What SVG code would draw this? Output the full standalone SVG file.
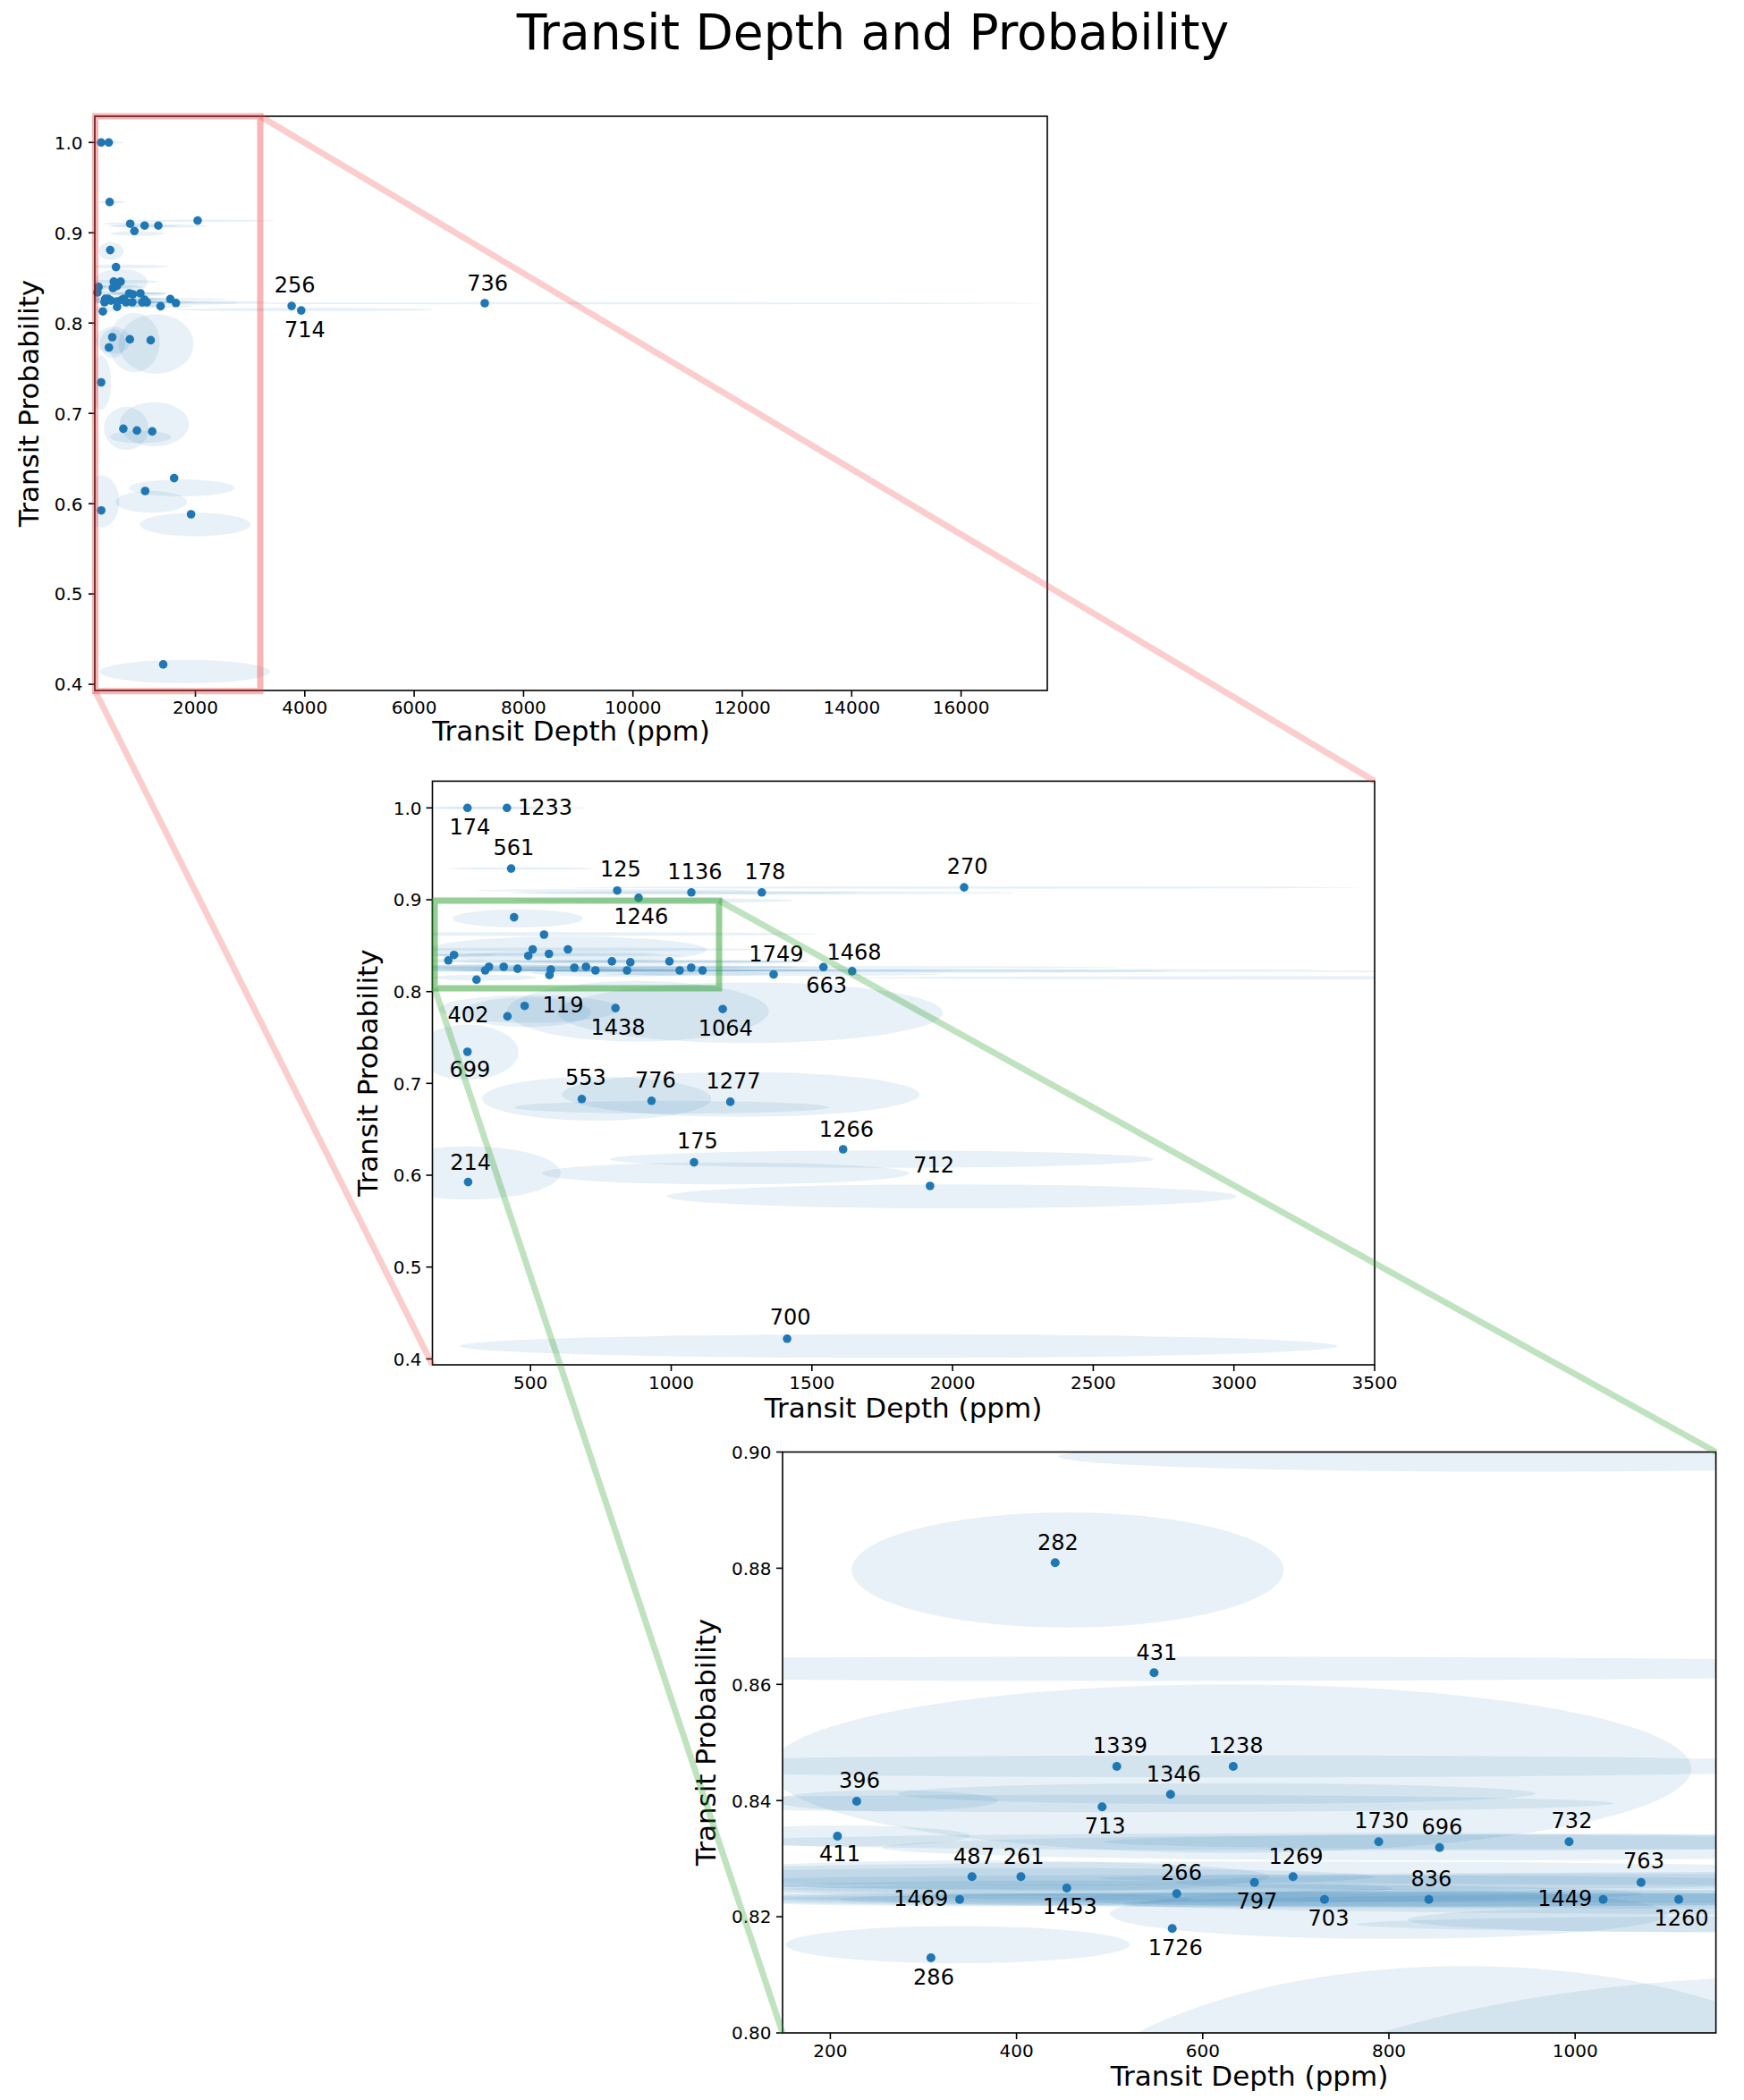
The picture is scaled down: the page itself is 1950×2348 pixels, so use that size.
<svg xmlns="http://www.w3.org/2000/svg" xmlns:xlink="http://www.w3.org/1999/xlink" width="1950" height="2348" viewBox="0 0 1950 2348">
<style>
.ell{fill:#1f77b4;fill-opacity:0.1}
.pt{fill:#1f77b4}
.ann{font-family:"DejaVu Sans","Liberation Sans",sans-serif;font-size:24px;text-anchor:middle;fill:#000}
.tk{font-family:"DejaVu Sans","Liberation Sans",sans-serif;font-size:20px;fill:#000}
.tx{text-anchor:middle}
.ty{text-anchor:end}
.lab{font-family:"DejaVu Sans","Liberation Sans",sans-serif;font-size:31px;text-anchor:middle;fill:#000}
.ttl{font-family:"DejaVu Sans","Liberation Sans",sans-serif;font-size:55px;text-anchor:middle;fill:#000}
.tl{stroke:#000;stroke-width:1.6}
.spine{fill:none;stroke:#000;stroke-width:1.6}
.rbox{fill:none;stroke:#f03c3c;stroke-opacity:0.38;stroke-width:7}
.rline{stroke:#f03c3c;stroke-opacity:0.26;stroke-width:7}
.gbox{fill:none;stroke:#2ca02c;stroke-opacity:0.5;stroke-width:7}
.gline{stroke:#2ca02c;stroke-opacity:0.3;stroke-width:7}
</style>
<defs>
<clipPath id="cT"><rect x="106" y="130" width="1065" height="642"/></clipPath>
<clipPath id="cM"><rect x="483.5" y="873.4" width="1053.5" height="652.6"/></clipPath>
<clipPath id="cB"><rect x="875" y="1623.5" width="1043.6" height="649.5"/></clipPath>
<g id="E" class="ell">
<ellipse cx="276" cy="1.0" rx="250" ry="0.0012"/>
<ellipse cx="430" cy="1.0" rx="270" ry="0.0012"/>
<ellipse cx="466" cy="0.934" rx="255" ry="0.0015"/>
<ellipse cx="808" cy="0.910" rx="500" ry="0.0015"/>
<ellipse cx="940" cy="0.8992" rx="495" ry="0.0026"/>
<ellipse cx="1071" cy="0.9075" rx="600" ry="0.0015"/>
<ellipse cx="1322" cy="0.9075" rx="903" ry="0.0018"/>
<ellipse cx="2041" cy="0.9133" rx="1402" ry="0.0013"/>
<ellipse cx="455" cy="0.8797" rx="232" ry="0.0099"/>
<ellipse cx="548" cy="0.8627" rx="970" ry="0.0021"/>
<ellipse cx="630" cy="0.8455" rx="495" ry="0.0145"/>
<ellipse cx="633" cy="0.8459" rx="700" ry="0.0019"/>
<ellipse cx="260" cy="0.8400" rx="120" ry="0.0018"/>
<ellipse cx="615" cy="0.8412" rx="343" ry="0.0018"/>
<ellipse cx="492" cy="0.8395" rx="550" ry="0.0015"/>
<ellipse cx="210" cy="0.8339" rx="140" ry="0.0018"/>
<ellipse cx="789" cy="0.8329" rx="700" ry="0.0015"/>
<ellipse cx="994" cy="0.8329" rx="500" ry="0.0013"/>
<ellipse cx="855" cy="0.8319" rx="600" ry="0.0022"/>
<ellipse cx="352" cy="0.8269" rx="320" ry="0.0028"/>
<ellipse cx="405" cy="0.8269" rx="380" ry="0.0015"/>
<ellipse cx="454" cy="0.8249" rx="350" ry="0.0013"/>
<ellipse cx="339" cy="0.8230" rx="250" ry="0.0012"/>
<ellipse cx="572" cy="0.8240" rx="500" ry="0.0016"/>
<ellipse cx="656" cy="0.8259" rx="600" ry="0.0013"/>
<ellipse cx="697" cy="0.8269" rx="750" ry="0.0026"/>
<ellipse cx="731" cy="0.8230" rx="650" ry="0.0013"/>
<ellipse cx="843" cy="0.8230" rx="700" ry="0.0011"/>
<ellipse cx="1030" cy="0.8230" rx="600" ry="0.0014"/>
<ellipse cx="1071" cy="0.8259" rx="500" ry="0.0015"/>
<ellipse cx="1111" cy="0.8230" rx="900" ry="0.0016"/>
<ellipse cx="337" cy="0.8152" rx="185" ry="0.0032"/>
<ellipse cx="800" cy="0.8205" rx="300" ry="0.0043"/>
<ellipse cx="1100" cy="0.8195" rx="280" ry="0.0021"/>
<ellipse cx="1364" cy="0.8187" rx="600" ry="0.0015"/>
<ellipse cx="1541" cy="0.8266" rx="1050" ry="0.0012"/>
<ellipse cx="1643" cy="0.8222" rx="1130" ry="0.0020"/>
<ellipse cx="1800" cy="0.8235" rx="1530" ry="0.0012"/>
<ellipse cx="4000" cy="0.8150" rx="2370" ry="0.0020"/>
<ellipse cx="9500" cy="0.8220" rx="8000" ry="0.0012"/>
<ellipse cx="497" cy="0.781" rx="322" ry="0.015"/>
<ellipse cx="486" cy="0.7775" rx="230" ry="0.016"/>
<ellipse cx="882" cy="0.7785" rx="465" ry="0.033"/>
<ellipse cx="1281" cy="0.777" rx="684" ry="0.033"/>
<ellipse cx="276" cy="0.734" rx="181" ry="0.030"/>
<ellipse cx="735" cy="0.6834" rx="407" ry="0.0239"/>
<ellipse cx="1001" cy="0.674" rx="560" ry="0.007"/>
<ellipse cx="1247" cy="0.688" rx="635" ry="0.0245"/>
<ellipse cx="278" cy="0.6024" rx="329" ry="0.029"/>
<ellipse cx="1193" cy="0.602" rx="653" ry="0.012"/>
<ellipse cx="1749" cy="0.6175" rx="966" ry="0.0095"/>
<ellipse cx="1997" cy="0.577" rx="1013" ry="0.013"/>
<ellipse cx="1808" cy="0.414" rx="1560" ry="0.013"/>
</g>
</defs>
<rect x="0" y="0" width="1950" height="2348" fill="#fff"/>
<text class="ttl" x="976" y="55">Transit Depth and Probability</text>

<g id="panel-top">
<g clip-path="url(#cT)"><use xlink:href="#E" href="#E" transform="matrix(0.06115,0,0,-1009.7,96.2,1169.0)"/></g>
<g class="pt">
<circle cx="110.2" cy="320.9" r="4.8"/><circle cx="108.9" cy="327.0" r="4.8"/><circle cx="117.7" cy="334.1" r="4.8"/><circle cx="120.9" cy="334.1" r="4.8"/><circle cx="116.9" cy="338.0" r="4.8"/><circle cx="124.0" cy="336.1" r="4.8"/><circle cx="115.0" cy="348.2" r="4.8"/><circle cx="126.3" cy="322.0" r="4.8"/><circle cx="130.8" cy="319.7" r="4.8"/><circle cx="131.2" cy="337.0" r="4.8"/><circle cx="130.9" cy="343.1" r="4.8"/><circle cx="127.2" cy="314.9" r="4.8"/><circle cx="123.2" cy="279.6" r="4.8"/><circle cx="129.7" cy="298.6" r="4.8"/><circle cx="134.9" cy="314.9" r="4.8"/><circle cx="136.3" cy="335.1" r="4.8"/><circle cx="138.8" cy="334.1" r="4.8"/><circle cx="140.9" cy="338.0" r="4.8"/><circle cx="144.5" cy="328.0" r="4.8"/><circle cx="148.5" cy="329.0" r="4.8"/><circle cx="147.8" cy="338.0" r="4.8"/><circle cx="157.0" cy="328.0" r="4.8"/><circle cx="159.2" cy="338.0" r="4.8"/><circle cx="161.7" cy="335.1" r="4.8"/><circle cx="164.2" cy="338.0" r="4.8"/><circle cx="113.1" cy="159.3" r="4.8"/><circle cx="121.6" cy="159.3" r="4.8"/><circle cx="122.6" cy="225.9" r="4.8"/><circle cx="145.6" cy="250.2" r="4.8"/><circle cx="150.3" cy="258.3" r="4.8"/><circle cx="161.7" cy="252.2" r="4.8"/><circle cx="177.0" cy="252.2" r="4.8"/><circle cx="221.0" cy="246.6" r="4.8"/><circle cx="179.6" cy="342.4" r="4.8"/><circle cx="190.4" cy="334.4" r="4.8"/><circle cx="196.7" cy="338.8" r="4.8"/><circle cx="125.5" cy="377.0" r="4.8"/><circle cx="121.8" cy="388.5" r="4.8"/><circle cx="145.2" cy="379.4" r="4.8"/><circle cx="168.5" cy="380.4" r="4.8"/><circle cx="113.1" cy="427.5" r="4.8"/><circle cx="137.9" cy="479.4" r="4.8"/><circle cx="153.1" cy="481.4" r="4.8"/><circle cx="170.2" cy="482.4" r="4.8"/><circle cx="194.7" cy="534.6" r="4.8"/><circle cx="162.3" cy="549.0" r="4.8"/><circle cx="213.6" cy="575.0" r="4.8"/><circle cx="113.2" cy="570.7" r="4.8"/><circle cx="182.5" cy="742.9" r="4.8"/><circle cx="326.1" cy="342.1" r="4.8"/><circle cx="336.8" cy="347.1" r="4.8"/><circle cx="542.0" cy="339.0" r="4.8"/>
</g>
<text class="ann" x="329.6" y="327.4">256</text>
<text class="ann" x="340.8" y="376.5">714</text>
<text class="ann" x="545.2" y="325.1">736</text>
<rect class="spine" x="106" y="130" width="1065" height="642"/>
<g class="tl">
<line x1="218.5" y1="772" x2="218.5" y2="779"/><line x1="340.8" y1="772" x2="340.8" y2="779"/><line x1="463.1" y1="772" x2="463.1" y2="779"/><line x1="585.4" y1="772" x2="585.4" y2="779"/><line x1="707.7" y1="772" x2="707.7" y2="779"/><line x1="830.0" y1="772" x2="830.0" y2="779"/><line x1="952.3" y1="772" x2="952.3" y2="779"/><line x1="1074.6" y1="772" x2="1074.6" y2="779"/>
<line x1="99" y1="159.3" x2="106" y2="159.3"/><line x1="99" y1="260.3" x2="106" y2="260.3"/><line x1="99" y1="361.2" x2="106" y2="361.2"/><line x1="99" y1="462.2" x2="106" y2="462.2"/><line x1="99" y1="563.2" x2="106" y2="563.2"/><line x1="99" y1="664.1" x2="106" y2="664.1"/><line x1="99" y1="765.1" x2="106" y2="765.1"/>
</g>
<g class="tk tx">
<text x="218.5" y="798">2000</text><text x="340.8" y="798">4000</text><text x="463.1" y="798">6000</text><text x="585.4" y="798">8000</text><text x="707.7" y="798">10000</text><text x="830.0" y="798">12000</text><text x="952.3" y="798">14000</text><text x="1074.6" y="798">16000</text>
</g>
<g class="tk ty">
<text x="92.5" y="166.6">1.0</text><text x="92.5" y="267.6">0.9</text><text x="92.5" y="368.5">0.8</text><text x="92.5" y="469.5">0.7</text><text x="92.5" y="570.5">0.6</text><text x="92.5" y="671.4">0.5</text><text x="92.5" y="772.4">0.4</text>
</g>
<text class="lab" x="638.5" y="828">Transit Depth (ppm)</text>
<text class="lab" transform="translate(43.3,451) rotate(-90)">Transit Probability</text>
</g>

<g id="panel-middle">
<g clip-path="url(#cM)"><use xlink:href="#E" href="#E" transform="matrix(0.3146,0,0,-1026.8,435.9,1930.1)"/></g>
<g class="pt">
<circle cx="507.7" cy="1067.7" r="4.8"/><circle cx="501.3" cy="1073.8" r="4.8"/><circle cx="546.7" cy="1081.0" r="4.8"/><circle cx="563.2" cy="1081.0" r="4.8"/><circle cx="542.5" cy="1085.0" r="4.8"/><circle cx="578.7" cy="1083.1" r="4.8"/><circle cx="532.8" cy="1095.4" r="4.8"/><circle cx="590.7" cy="1068.7" r="4.8"/><circle cx="613.8" cy="1066.5" r="4.8"/><circle cx="615.9" cy="1084.0" r="4.8"/><circle cx="614.4" cy="1090.2" r="4.8"/><circle cx="595.6" cy="1061.5" r="4.8"/><circle cx="574.8" cy="1025.6" r="4.8"/><circle cx="608.3" cy="1045.0" r="4.8"/><circle cx="635.0" cy="1061.5" r="4.8"/><circle cx="642.2" cy="1082.0" r="4.8"/><circle cx="655.2" cy="1081.0" r="4.8"/><circle cx="665.8" cy="1085.0" r="4.8"/><circle cx="684.2" cy="1074.9" r="4.8"/><circle cx="704.8" cy="1075.9" r="4.8"/><circle cx="701.1" cy="1085.0" r="4.8"/><circle cx="748.5" cy="1074.9" r="4.8"/><circle cx="760.0" cy="1085.0" r="4.8"/><circle cx="772.8" cy="1082.0" r="4.8"/><circle cx="785.5" cy="1085.0" r="4.8"/><circle cx="522.7" cy="903.3" r="4.8"/><circle cx="566.8" cy="903.3" r="4.8"/><circle cx="571.5" cy="971.1" r="4.8"/><circle cx="690.1" cy="995.7" r="4.8"/><circle cx="714.0" cy="1003.9" r="4.8"/><circle cx="773.0" cy="997.8" r="4.8"/><circle cx="851.8" cy="997.8" r="4.8"/><circle cx="1078.0" cy="992.1" r="4.8"/><circle cx="865.0" cy="1089.5" r="4.8"/><circle cx="920.7" cy="1081.3" r="4.8"/><circle cx="952.8" cy="1085.9" r="4.8"/><circle cx="586.6" cy="1124.7" r="4.8"/><circle cx="567.4" cy="1136.4" r="4.8"/><circle cx="688.2" cy="1127.1" r="4.8"/><circle cx="808.1" cy="1128.2" r="4.8"/><circle cx="522.7" cy="1176.0" r="4.8"/><circle cx="650.5" cy="1228.8" r="4.8"/><circle cx="728.5" cy="1230.8" r="4.8"/><circle cx="816.6" cy="1231.9" r="4.8"/><circle cx="942.7" cy="1285.0" r="4.8"/><circle cx="776.0" cy="1299.6" r="4.8"/><circle cx="1039.9" cy="1326.0" r="4.8"/><circle cx="523.4" cy="1321.6" r="4.8"/><circle cx="880.1" cy="1496.8" r="4.8"/>
</g>
<g class="ann">
<text x="525.4" y="933.4">174</text><text x="609.6" y="911.1">1233</text><text x="574.4" y="955.7">561</text><text x="693.8" y="980.3">125</text><text x="776.9" y="982.5">1136</text><text x="855.3" y="982.5">178</text><text x="716.8" y="1033">1246</text><text x="1081.7" y="977">270</text><text x="867.9" y="1075">1749</text><text x="955" y="1072.7">1468</text><text x="924.2" y="1109.7">663</text><text x="629.5" y="1132.1">119</text><text x="523.5" y="1143.3">402</text><text x="691.1" y="1156.7">1438</text><text x="811.3" y="1157.5">1064</text><text x="525.4" y="1204.4">699</text><text x="654.8" y="1213.3">553</text><text x="732.8" y="1215.6">776</text><text x="820.1" y="1216.9">1277</text><text x="946.4" y="1270.5">1266</text><text x="779.9" y="1283.9">175</text><text x="1044.1" y="1310.7">712</text><text x="526.2" y="1307.5">214</text><text x="883.6" y="1480.7">700</text>
</g>
<rect class="spine" x="483.5" y="873.4" width="1053.5" height="652.6"/>
<g class="tl">
<line x1="593.2" y1="1526" x2="593.2" y2="1533"/><line x1="750.5" y1="1526" x2="750.5" y2="1533"/><line x1="907.8" y1="1526" x2="907.8" y2="1533"/><line x1="1065.1" y1="1526" x2="1065.1" y2="1533"/><line x1="1222.4" y1="1526" x2="1222.4" y2="1533"/><line x1="1379.7" y1="1526" x2="1379.7" y2="1533"/><line x1="1537.0" y1="1526" x2="1537.0" y2="1533"/>
<line x1="476.5" y1="903.3" x2="483.5" y2="903.3"/><line x1="476.5" y1="1006.0" x2="483.5" y2="1006.0"/><line x1="476.5" y1="1108.7" x2="483.5" y2="1108.7"/><line x1="476.5" y1="1211.3" x2="483.5" y2="1211.3"/><line x1="476.5" y1="1314.0" x2="483.5" y2="1314.0"/><line x1="476.5" y1="1416.7" x2="483.5" y2="1416.7"/><line x1="476.5" y1="1519.4" x2="483.5" y2="1519.4"/>
</g>
<g class="tk tx">
<text x="593.2" y="1552.5">500</text><text x="750.5" y="1552.5">1000</text><text x="907.8" y="1552.5">1500</text><text x="1065.1" y="1552.5">2000</text><text x="1222.4" y="1552.5">2500</text><text x="1379.7" y="1552.5">3000</text><text x="1537.0" y="1552.5">3500</text>
</g>
<g class="tk ty">
<text x="471.5" y="910.6">1.0</text><text x="471.5" y="1013.3">0.9</text><text x="471.5" y="1116.0">0.8</text><text x="471.5" y="1218.6">0.7</text><text x="471.5" y="1321.3">0.6</text><text x="471.5" y="1424.0">0.5</text><text x="471.5" y="1526.7">0.4</text>
</g>
<text class="lab" x="1010" y="1585">Transit Depth (ppm)</text>
<text class="lab" transform="translate(421.7,1199.7) rotate(-90)">Transit Probability</text>
</g>

<g id="panel-bottom">
<g clip-path="url(#cB)"><use xlink:href="#E" href="#E" transform="matrix(1.0408,0,0,-6495,720.24,7469.0)"/></g>
<g class="pt">
<circle cx="957.9" cy="2014" r="5"/><circle cx="936.4" cy="2053" r="5"/><circle cx="1086.8" cy="2098.3" r="5"/><circle cx="1141.5" cy="2098.3" r="5"/><circle cx="1073" cy="2123.7" r="5"/><circle cx="1192.8" cy="2111" r="5"/><circle cx="1040.9" cy="2189" r="5"/><circle cx="1232.3" cy="2020.3" r="5"/><circle cx="1308.8" cy="2006.3" r="5"/><circle cx="1315.7" cy="2117.3" r="5"/><circle cx="1310.7" cy="2156.3" r="5"/><circle cx="1248.7" cy="1975" r="5"/><circle cx="1179.8" cy="1747.3" r="5"/><circle cx="1290.4" cy="1870.3" r="5"/><circle cx="1378.9" cy="1975" r="5"/><circle cx="1402.6" cy="2104.7" r="5"/><circle cx="1445.8" cy="2098.3" r="5"/><circle cx="1480.9" cy="2123.7" r="5"/><circle cx="1541.6" cy="2059.3" r="5"/><circle cx="1609.6" cy="2065.7" r="5"/><circle cx="1597.6" cy="2123.7" r="5"/><circle cx="1754.4" cy="2059.3" r="5"/><circle cx="1792.5" cy="2123.7" r="5"/><circle cx="1834.9" cy="2104.7" r="5"/><circle cx="1877" cy="2123.7" r="5"/>
</g>
<g class="ann">
<text x="961" y="1999.4">396</text><text x="939" y="2081.4">411</text><text x="1089" y="2083.7">487</text><text x="1144.6" y="2083.7">261</text><text x="1029.8" y="2131.4">1469</text><text x="1196.3" y="2140.4">1453</text><text x="1044" y="2218.7">286</text><text x="1235.7" y="2049.7">713</text><text x="1312.2" y="1992">1346</text><text x="1321" y="2102">266</text><text x="1314.2" y="2186">1726</text><text x="1252.5" y="1960.4">1339</text><text x="1182.9" y="1732.7">282</text><text x="1293.4" y="1856">431</text><text x="1382" y="1960.4">1238</text><text x="1405.4" y="2134.4">797</text><text x="1449" y="2083.7">1269</text><text x="1485.5" y="2153">703</text><text x="1544.7" y="2043.7">1730</text><text x="1612.4" y="2050.7">696</text><text x="1600.3" y="2108.7">836</text><text x="1757.5" y="2043.7">732</text><text x="1749.7" y="2131.4">1449</text><text x="1838" y="2089.4">763</text><text x="1880" y="2153">1260</text>
</g>
<rect class="spine" x="875" y="1623.5" width="1043.6" height="649.5"/>
<g class="tl">
<line x1="928.4" y1="2273" x2="928.4" y2="2280"/><line x1="1136.6" y1="2273" x2="1136.6" y2="2280"/><line x1="1344.8" y1="2273" x2="1344.8" y2="2280"/><line x1="1553.0" y1="2273" x2="1553.0" y2="2280"/><line x1="1761.2" y1="2273" x2="1761.2" y2="2280"/>
<line x1="868" y1="1623.5" x2="875" y2="1623.5"/><line x1="868" y1="1753.4" x2="875" y2="1753.4"/><line x1="868" y1="1883.3" x2="875" y2="1883.3"/><line x1="868" y1="2013.2" x2="875" y2="2013.2"/><line x1="868" y1="2143.1" x2="875" y2="2143.1"/><line x1="868" y1="2273" x2="875" y2="2273"/>
</g>
<g class="tk tx">
<text x="928.4" y="2299.5">200</text><text x="1136.6" y="2299.5">400</text><text x="1344.8" y="2299.5">600</text><text x="1553.0" y="2299.5">800</text><text x="1761.2" y="2299.5">1000</text>
</g>
<g class="tk ty">
<text x="862.5" y="1630.8">0.90</text><text x="862.5" y="1760.7">0.88</text><text x="862.5" y="1890.6">0.86</text><text x="862.5" y="2020.5">0.84</text><text x="862.5" y="2150.4">0.82</text><text x="862.5" y="2280.3">0.80</text>
</g>
<text class="lab" x="1397" y="2332">Transit Depth (ppm)</text>
<text class="lab" transform="translate(799.8,1948) rotate(-90)">Transit Probability</text>
</g>

<g id="connectors">
<rect class="rbox" x="106.5" y="130" width="184.5" height="642.7"/>
<line class="rline" x1="291" y1="130" x2="1537" y2="873.4"/>
<line class="rline" x1="106.5" y1="772.7" x2="483.5" y2="1526"/>
<rect class="gbox" x="486" y="1007" width="318" height="98"/>
<line class="gline" x1="804" y1="1007" x2="1918.6" y2="1623.5"/>
<line class="gline" x1="486" y1="1105" x2="875" y2="2273"/>
</g>
</svg>
